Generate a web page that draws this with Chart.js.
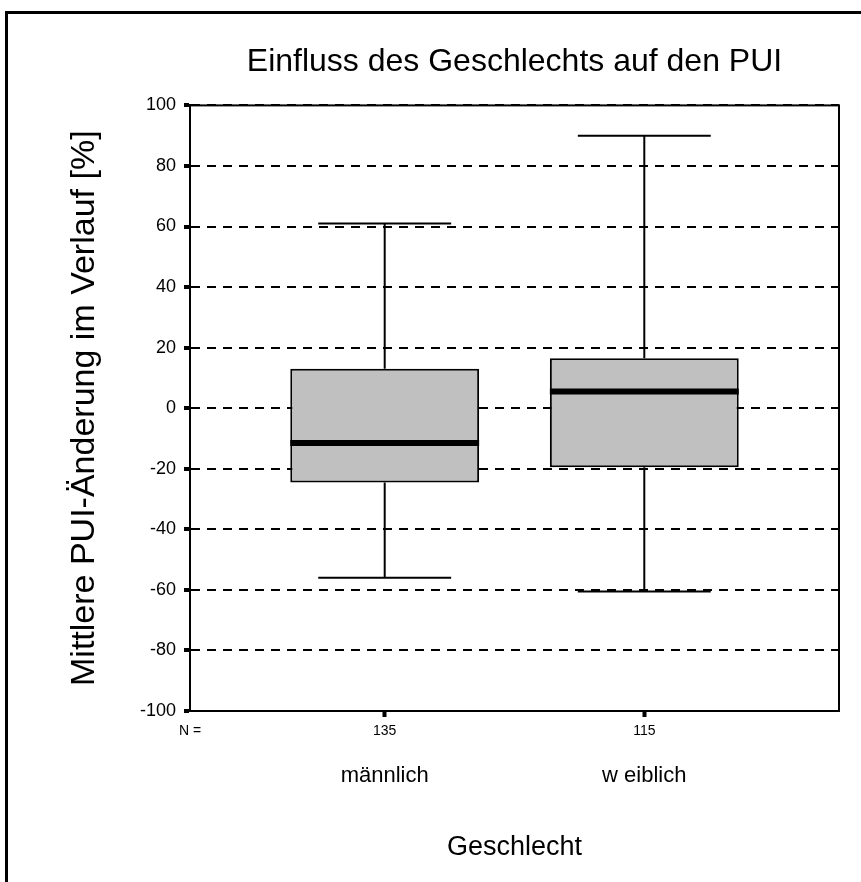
<!DOCTYPE html>
<html>
<head>
<meta charset="utf-8">
<script src="https://cdn.jsdelivr.net/npm/chart.js@4.4.1/dist/chart.umd.min.js"></script>
<style>
  body { margin: 0; background: #fff; overflow: hidden; }
  #wrap { position: relative; width: 861px; height: 882px; }
  #frame { position: absolute; left: 5px; top: 11px; width: 900px; height: 900px; border-left: 3px solid #000; border-top: 3px solid #000; }
  canvas { position: absolute; left: 0; top: 0; }
</style>
</head>
<body>
<div id="wrap">
  <div id="frame"></div>
  <canvas id="boxChart" width="861" height="882"></canvas>
</div>
<script>
const categories = ['männlich', 'w eiblich'];
const counts = [135, 115];
const whiskerLow = [-56, -60.5];
const q1 = [-24.5, -19.5];
const median = [-11.5, 5.5];
const q3 = [13, 16.5];
const whiskerHigh = [61, 90];

const FONT = "'Liberation Sans', Arial, sans-serif";
const X_MIN = -0.75, X_MAX = 1.75;

// whiskers, caps, medians and the plot frame
const boxPlot = {
    id: 'boxPlot',
    afterDatasetsDraw(chart) {
        const x = chart.scales.x, y = chart.scales.y;
        const meta = chart.getDatasetMeta(0);
        const ctx = chart.ctx;
        ctx.save();
        ctx.strokeStyle = '#000';
        categories.forEach((c, i) => {
            const bar = meta.data[i];
            const cx = x.getPixelForValue(i);
            const capHalf = x.getPixelForValue(i + 0.256) - cx;
            ctx.lineWidth = 2;
            ctx.beginPath();
            ctx.moveTo(cx, y.getPixelForValue(whiskerHigh[i]));
            ctx.lineTo(cx, y.getPixelForValue(q3[i]));
            ctx.moveTo(cx, y.getPixelForValue(q1[i]));
            ctx.lineTo(cx, y.getPixelForValue(whiskerLow[i]));
            ctx.moveTo(cx - capHalf, y.getPixelForValue(whiskerHigh[i]));
            ctx.lineTo(cx + capHalf, y.getPixelForValue(whiskerHigh[i]));
            ctx.moveTo(cx - capHalf, y.getPixelForValue(whiskerLow[i]));
            ctx.lineTo(cx + capHalf, y.getPixelForValue(whiskerLow[i]));
            ctx.stroke();
            ctx.lineWidth = 6;
            ctx.beginPath();
            ctx.moveTo(bar.x - bar.width / 2, y.getPixelForValue(median[i]));
            ctx.lineTo(bar.x + bar.width / 2, y.getPixelForValue(median[i]));
            ctx.stroke();
        });
        const a = chart.chartArea;
        ctx.lineWidth = 2;
        ctx.strokeRect(a.left, a.top, a.right - a.left, a.bottom - a.top);
        ctx.restore();
    }
};

const ctx = document.getElementById('boxChart').getContext('2d');
new Chart(ctx, {
    type: 'bar',
    data: {
        datasets: [{
            data: categories.map((c, i) => ({ x: i, y: [q1[i], q3[i]] })),
            backgroundColor: '#c0c0c0',
            borderColor: '#000',
            borderWidth: 2,
            borderSkipped: false,
            categoryPercentage: 1,
            barPercentage: 0.97,
            xAxisID: 'x',
            yAxisID: 'y'
        }]
    },
    options: {
        responsive: false,
        animation: false,
        layout: { padding: { left: 0, right: 22, top: 0, bottom: 0 } },
        plugins: {
            legend: { display: false },
            tooltip: { enabled: false },
            title: {
                display: true,
                fullSize: false,
                text: 'Einfluss des Geschlechts auf den PUI',
                color: '#000',
                font: { family: FONT, size: 32, weight: 'normal' },
                padding: { top: 43, bottom: 24 }
            }
        },
        scales: {
            y: {
                min: -100,
                max: 100,
                ticks: { stepSize: 20, color: '#000', padding: 8, font: { family: FONT, size: 18 } },
                grid: { color: '#000', lineWidth: 2, tickLength: 6, tickWidth: 4, tickColor: '#000' },
                border: { display: true, color: '#000', width: 2, dash: [9, 7] },
                title: {
                    display: true,
                    text: 'Mittlere PUI-Änderung im Verlauf [%]',
                    color: '#000',
                    font: { family: FONT, size: 34 },
                    padding: { top: 64, bottom: 0 }
                },
                afterFit: s => { s.width = 190; }
            },
            x: {
                type: 'linear',
                position: 'bottom',
                offset: false,
                min: X_MIN,
                max: X_MAX,
                afterBuildTicks: s => { s.ticks = [{ value: X_MIN }, { value: 0 }, { value: 1 }]; },
                ticks: {
                    autoSkip: false,
                    maxRotation: 0,
                    color: '#000',
                    padding: 6,
                    font: { family: FONT, size: 14 },
                    callback: (v, i) => i === 0 ? 'N =' : counts[i - 1]
                },
                grid: {
                    drawOnChartArea: false,
                    offset: false,
                    tickLength: 6,
                    tickWidth: 4,
                    tickColor: c => c.index === 0 ? 'rgba(0,0,0,0)' : '#000'
                },
                border: { display: false },
                afterFit: s => { s.height = 40; }
            },
            x2: {
                type: 'linear',
                position: 'bottom',
                offset: false,
                min: X_MIN,
                max: X_MAX,
                afterBuildTicks: s => { s.ticks = [{ value: 0 }, { value: 1 }]; },
                ticks: {
                    autoSkip: false,
                    maxRotation: 0,
                    color: '#000',
                    padding: 12,
                    font: { family: FONT, size: 22 },
                    callback: (v, i) => categories[i]
                },
                grid: { display: false, drawTicks: false, offset: false },
                border: { display: false },
                title: {
                    display: true,
                    text: 'Geschlecht',
                    color: '#000',
                    font: { family: FONT, size: 27 },
                    padding: { top: 0, bottom: 18 }
                },
                afterFit: s => { s.height = 131; }
            }
        }
    },
    plugins: [boxPlot]
});
</script>
</body>
</html>
